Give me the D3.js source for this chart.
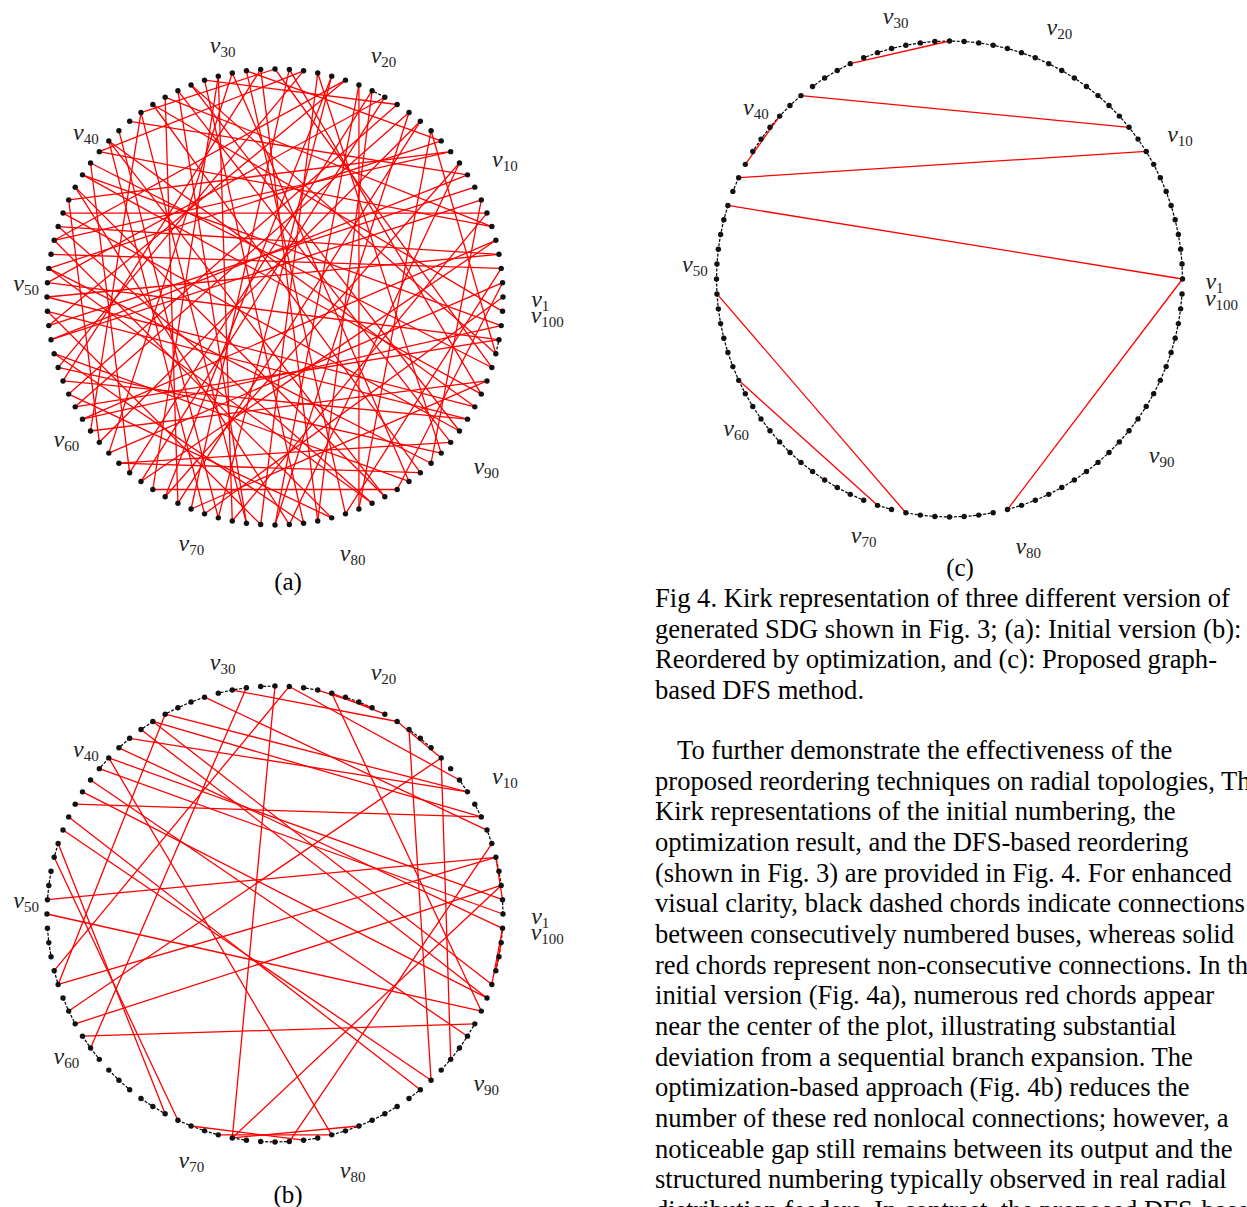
<!DOCTYPE html>
<html>
<head>
<meta charset="utf-8">
<script src="https://cdn.jsdelivr.net/npm/d3@7"></script>
<style>
  body { margin: 0; background: #fff; }
  svg { display: block; }
</style>
</head>
<body>
<svg id="fig" width="1247" height="1207"></svg>
<script>
const nodeCount = 100;
const labelNodes = [1, 10, 20, 30, 40, 50, 60, 70, 80, 90, 100];

// (a) initial numbering: red chords, plus the few consecutive pairs (i, i+1)
const chordsA = [
  [37, 10], [45, 7], [38, 72], [41, 96], [43, 84], [44, 62], [46, 4], [48, 3], [50, 98], [52, 92],
  [54, 8], [56, 89], [58, 80], [60, 5], [62, 15], [64, 90], [66, 18], [68, 11], [70, 25], [72, 22],
  [74, 36], [76, 20], [78, 31], [80, 47], [82, 14], [84, 39], [86, 55], [88, 49], [90, 33], [92, 57],
  [94, 42], [96, 26], [98, 59], [100, 35], [2, 63], [4, 51], [6, 40], [9, 53], [11, 77], [13, 49],
  [15, 69], [17, 58], [19, 65], [21, 47], [23, 75], [24, 56], [27, 79], [28, 13], [29, 86], [30, 67],
  [31, 17], [32, 91], [33, 74], [34, 6], [35, 87], [36, 61], [39, 71], [40, 24], [42, 99], [47, 12],
  [49, 83], [51, 93], [53, 21], [55, 78], [57, 27], [59, 16], [61, 95], [63, 29], [65, 41], [67, 85],
  [69, 34], [71, 1], [73, 30], [75, 52], [77, 43], [79, 19], [81, 28], [83, 46], [85, 2], [87, 64],
  [89, 23], [91, 45], [93, 39], [95, 70], [97, 32], [99, 60], [3, 81], [5, 66], [7, 73], [8, 88],
  [10, 54], [12, 44], [14, 97], [16, 76], [18, 50], [20, 82], [22, 68], [25, 94], [26, 36]
];
const stepsA = [18, 97];

// (b) reordered by optimization
const chordsB = [
  [26, 73], [25, 55], [28, 61], [29, 17], [37, 10], [34, 10], [35, 8], [36, 95], [35, 96], [22, 94],
  [22, 18], [23, 19], [16, 88], [13, 90], [17, 13], [31, 7], [43, 8], [50, 5], [56, 5], [59, 3],
  [60, 93], [45, 88], [44, 87], [47, 69], [46, 68], [41, 92], [42, 95], [39, 2], [38, 100], [40, 1],
  [39, 80], [51, 94], [73, 3], [73, 82], [72, 80], [70, 78], [77, 6], [34, 56], [58, 13], [2, 5],
  [96, 100], [97, 99], [25, 11]
];
const stepsB = [
  1, 3, 4, 6, 8, 10, 14, 15, 19, 20, 23, 26, 28, 29, 31, 32, 33, 35, 37, 39, 46, 48, 49, 52, 53,
  55, 57, 58, 60, 61, 63, 64, 66, 67, 69, 70, 71, 73, 75, 76, 78, 80, 81, 82, 83, 84, 86, 89, 90,
  91, 92, 97, 98, 99
];

// (c) proposed DFS numbering
const chordsC = [[26, 33], [12, 37], [39, 43], [10, 44], [1, 46], [58, 71], [52, 73], [1, 80]];
const stepsC = d3.range(1, nodeCount).filter(i => ![33, 37, 43, 44, 46, 71, 73, 80].includes(i + 1));

const captionLines = [
  "Fig 4. Kirk representation of three different version of",
  "generated SDG shown in Fig. 3; (a): Initial version (b):",
  "Reordered by optimization, and (c): Proposed graph-",
  "based DFS method."
];
const paragraphLines = [
  "To further demonstrate the effectiveness of the",
  "proposed reordering techniques on radial topologies, The",
  "Kirk representations of the initial numbering, the",
  "optimization result, and the DFS-based reordering",
  "(shown in Fig. 3) are provided in Fig. 4. For enhanced",
  "visual clarity, black dashed chords indicate connections",
  "between consecutively numbered buses, whereas solid",
  "red chords represent non-consecutive connections. In the",
  "initial version (Fig. 4a), numerous red chords appear",
  "near the center of the plot, illustrating substantial",
  "deviation from a sequential branch expansion. The",
  "optimization-based approach (Fig. 4b) reduces the",
  "number of these red nonlocal connections; however, a",
  "noticeable gap still remains between its output and the",
  "structured numbering typically observed in real radial",
  "distribution feeders. In contrast, the proposed DFS-based"
];

const svg = d3.select("#fig");
const serif = "'Liberation Serif', 'Times New Roman', serif";

const panels = [
  { chords: chordsA, steps: stepsA, cx: 275, cy: 297, rx: 228, ry: 228, pull: 6, tag: "(a)", tagX: 288, tagY: 590 },
  { chords: chordsB, steps: stepsB, cx: 275, cy: 914, rx: 228, ry: 228, pull: 6, tag: "(b)", tagX: 288, tagY: 1203 },
  { chords: chordsC, steps: stepsC, cx: 949.5, cy: 279, rx: 233, ry: 238, pull: 12, tag: "(c)", tagX: 960, tagY: 576 }
];

const angle = d3.scaleLinear().domain([1, nodeCount + 1]).range([0, 2 * Math.PI]);

function drawPanel(p) {
  const g = svg.append("g");
  const px = (i, k = 1) => p.cx + k * p.rx * Math.cos(angle(i));
  const py = (i, k = 1) => p.cy - k * p.ry * Math.sin(angle(i));

  g.selectAll("line.step")
    .data(p.steps)
    .join("line")
    .attr("class", "step")
    .attr("x1", d => px(d)).attr("y1", d => py(d))
    .attr("x2", d => px(d + 1)).attr("y2", d => py(d + 1))
    .attr("stroke", "#000")
    .attr("stroke-width", 1.2)
    .attr("stroke-dasharray", "3,1.5");

  g.selectAll("line.chord")
    .data(p.chords)
    .join("line")
    .attr("class", "chord")
    .attr("x1", d => px(d[0])).attr("y1", d => py(d[0]))
    .attr("x2", d => px(d[1])).attr("y2", d => py(d[1]))
    .attr("stroke", "#ff0000")
    .attr("stroke-width", 1.3);

  g.selectAll("circle")
    .data(d3.range(1, nodeCount + 1))
    .join("circle")
    .attr("cx", d => px(d)).attr("cy", d => py(d))
    .attr("r", 2.7)
    .attr("fill", "#111");

  // labels on the right side sit a little closer to the ring
  const pull = d => p.pull * Math.max(0, Math.cos(angle(d))) ** 2;
  const lab = g.selectAll("text.lab")
    .data(labelNodes)
    .join("text")
    .attr("class", "lab")
    .attr("x", d => px(d, 1.15) - pull(d))
    .attr("y", d => py(d, 1.15) + 10)
    .attr("font-family", serif)
    .attr("fill", "#222");
  lab.append("tspan").attr("font-style", "italic").attr("font-size", 24).text("v");
  lab.append("tspan").attr("font-size", 15).attr("dy", 4).text(d => d);

  svg.append("text")
    .attr("x", p.tagX).attr("y", p.tagY)
    .attr("text-anchor", "middle")
    .attr("font-family", serif)
    .attr("font-size", 25)
    .text(p.tag);
}

panels.forEach(drawPanel);

svg.append("g")
  .selectAll("text")
  .data(captionLines)
  .join("text")
  .attr("x", 655)
  .attr("y", (d, i) => 607 + i * 30.6)
  .attr("font-family", serif)
  .attr("font-size", 26.6)
  .text(d => d);

svg.append("g")
  .selectAll("text")
  .data(paragraphLines)
  .join("text")
  .attr("x", (d, i) => (i === 0 ? 677 : 655))
  .attr("y", (d, i) => 759 + i * 30.67)
  .attr("font-family", serif)
  .attr("font-size", 26.6)
  .text(d => d);
</script>
</body>
</html>
